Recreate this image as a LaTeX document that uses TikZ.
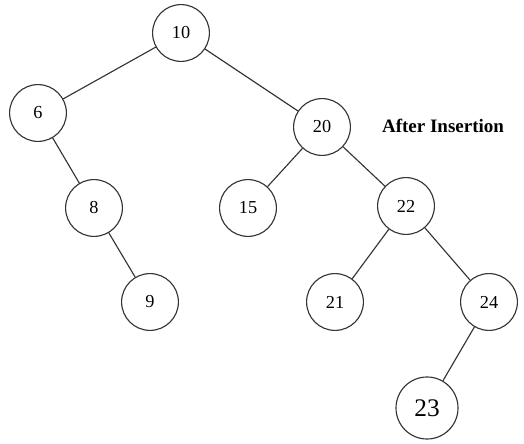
\documentclass[tikz,border=0pt]{standalone}
\usepackage{fontspec}
\setmainfont{Liberation Serif}
\usetikzlibrary{positioning}
\tikzset{
  keynode/.style={circle,draw=black!80,line width=0.8pt,minimum size=1.42cm,inner sep=0pt,
    font=\fontsize{13}{15}\selectfont},
  bigkey/.style={keynode,minimum size=1.55cm,font=\fontsize{18}{20}\selectfont},
  link/.style={draw=black!80,line width=0.8pt},
  tag/.style={font=\fontsize{13.5}{16}\selectfont\bfseries},
}
\begin{document}
\begin{tikzpicture}[x=0.025cm,y=-0.025cm]
  \useasboundingbox (0,0) rectangle (524,444);
  % keys of the tree, pixel positions
  \foreach \k/\x/\y in {10/181/33,6/38/113,20/322/127,8/94/208,15/248/208,
    22/406/206,9/150/302,21/335/302,24/489/302}{
    \node[keynode] (k\k) at (\x,\y) {\k};
  }
  \node[bigkey] (k23) at (427,408) {23};
  \foreach \a/\b in {10/6,10/20,6/8,8/9,20/15,20/22,22/21,22/24,24/23}
    \draw[link] (k\a) -- (k\b);
  \node[tag] (note) at (443,126) {After Insertion};
\end{tikzpicture}
\end{document}
